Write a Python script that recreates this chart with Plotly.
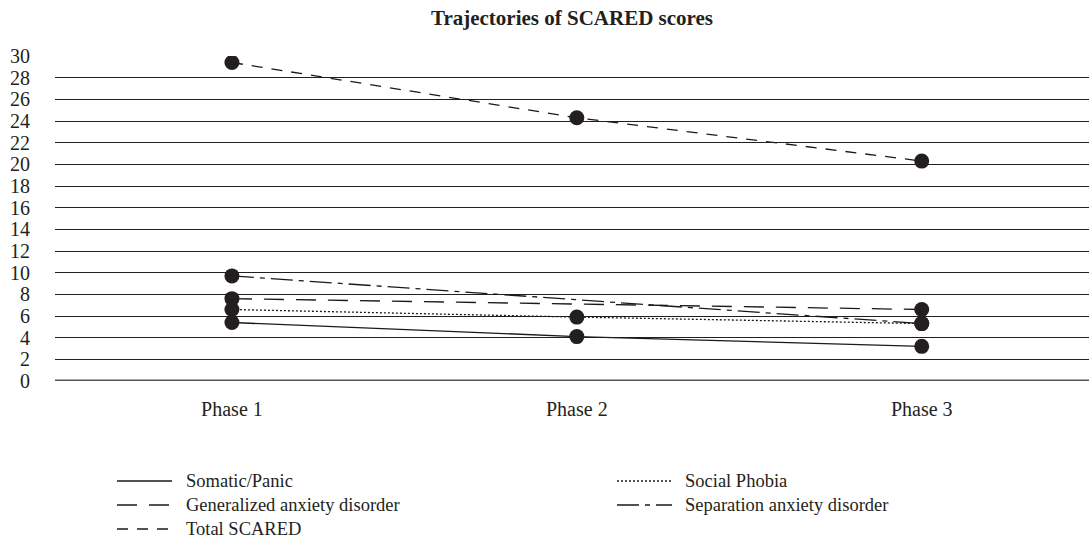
import plotly.graph_objects as go

phases = ["Phase 1", "Phase 2", "Phase 3"]
somatic = [5.4, 4.1, 3.2]
social = [6.6, 5.9, 5.3]
gad = [7.6, 7.1, 6.6]
separation = [9.7, 7.5, 5.3]
total = [29.4, 24.3, 20.3]
y_ticks = list(range(0, 31, 2))

# name, values, dash, which phases show a marker, legend column, legend row
series = [
    ("Somatic/Panic", somatic, "solid", [True, True, True], 0, 0),
    ("Social Phobia", social, "2px,2px", [True, True, True], 1, 0),
    ("Generalized anxiety disorder", gad, "20px,12px", [True, False, True], 0, 1),
    ("Separation anxiety disorder", separation, "22px,6px,5px,6px", [True, False, True], 1, 1),
    ("Total SCARED", total, "11px,9px", [True, True, True], 0, 2),
]

FONT = "Liberation Serif, Times New Roman, serif"
INK = "#231f20"
fig = go.Figure()
for name, vals, dash, mk, c, r in series:
    fig.add_trace(go.Scatter(
        x=phases, y=vals, mode="lines", name=name, showlegend=False,
        line=dict(color="#1a1a1a", width=1.3, dash=dash),
    ))
for name, vals, dash, mk, c, r in series:
    xs = [p for p, m in zip(phases, mk) if m]
    ys = [v for v, m in zip(vals, mk) if m]
    fig.add_trace(go.Scatter(
        x=xs, y=ys, mode="markers", showlegend=False, hoverinfo="skip",
        marker=dict(color=INK, size=15),
    ))

# legend drawn as paper-positioned samples + real text
col_line = [(0.0600, 0.1132), (0.5435, 0.5967)]
col_text = [0.1247, 0.6073]
row_y = [-0.3077, -0.3815, -0.4554]
for name, vals, dash, mk, c, r in series:
    fig.add_shape(type="line", xref="paper", yref="paper",
                  x0=col_line[c][0], x1=col_line[c][1], y0=row_y[r], y1=row_y[r],
                  line=dict(color="#1a1a1a", width=1.3, dash=dash))
    fig.add_annotation(xref="paper", yref="paper", x=col_text[c], y=row_y[r],
                       xanchor="left", yanchor="middle", showarrow=False,
                       text=name, font=dict(size=18.5, family=FONT, color=INK))

fig.update_layout(
    width=1089, height=544,
    margin=dict(l=55, r=0, t=56, b=163),
    paper_bgcolor="white", plot_bgcolor="white",
    font=dict(family=FONT, color=INK, size=18),
    title=dict(text="<b>Trajectories of SCARED scores</b>", x=0.5, xref="paper",
               y=0.967, yanchor="middle", font=dict(size=21, family=FONT)),
    xaxis=dict(range=[-0.513, 2.485], showgrid=False, zeroline=False,
               showline=False, ticks="", ticklabelstandoff=14,
               tickfont=dict(size=20)),
    yaxis=dict(range=[0, 30], tickvals=y_ticks, showgrid=True,
               gridcolor=INK, gridwidth=1.3, zeroline=False,
               showline=False, ticks="", ticklabelstandoff=24,
               tickfont=dict(size=20)),
    showlegend=False,
)
fig.add_shape(type="line", xref="paper", yref="y", x0=0, x1=1, y0=0, y1=0,
              line=dict(color="#555555", width=3), layer="below")
fig.write_html("out.html", config={"displayModeBar": False},
               post_script="document.body.style.margin='0';document.body.style.overflow='hidden';")
